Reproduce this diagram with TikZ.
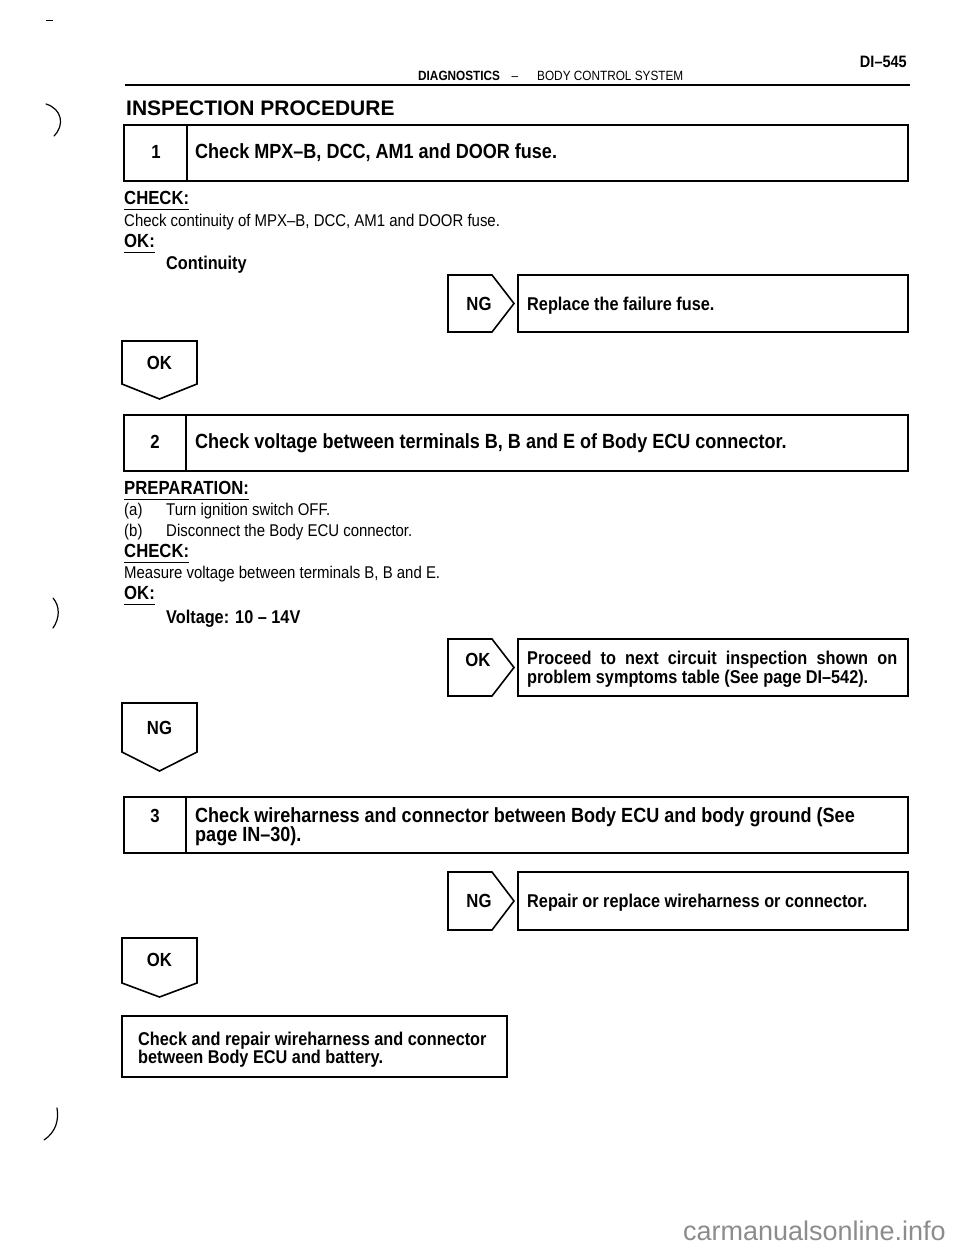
\documentclass[tikz,border=0pt]{standalone}
\usepackage{fontspec}
\setmainfont{Liberation Sans}[FakeStretch=0.88]
\newfontfamily\widefont{Liberation Sans}
\usetikzlibrary{calc}
\begin{document}
\begin{tikzpicture}[x=1pt,y=-1pt,
  bx/.style={line width=1.6pt, line join=miter},
  txt/.style={inner sep=0pt, anchor=base west, font=\fontsize{17}{20}\selectfont},
  bt/.style={inner sep=0pt, anchor=base west, font=\fontsize{18.5}{20}\selectfont\bfseries},
  lbl/.style={inner sep=0pt, anchor=base west, font=\fontsize{19}{20}\selectfont\bfseries},
  rt/.style={inner sep=0pt, anchor=base west, font=\fontsize{18.5}{20}\selectfont\bfseries},
  hd/.style={inner sep=0pt, anchor=base west, font=\fontsize{20.5}{22}\selectfont\bfseries},
  num/.style={inner sep=0pt, anchor=base, font=\fontsize{19}{22}\selectfont\bfseries},
  lab/.style={inner sep=0pt, font=\fontsize{19}{20}\selectfont\bfseries},
  ul/.style={line width=1pt},
  margmark/.style={line width=1.2pt, line cap=round}]
\useasboundingbox (0,0) rectangle (960,1250);

% margin marks
\draw[line width=0.8pt] (46,20) -- (53,20);
\draw[margmark] (46,104) .. controls (62,109) and (65,125) .. (54,136);
\draw[margmark] (53,598) .. controls (60,606) and (60,618) .. (53,628);
\draw[margmark] (57,1108) .. controls (59,1120) and (56,1132) .. (44,1140);

% header
\node[inner sep=0pt, anchor=base east, font=\fontsize{16.5}{18}\selectfont\bfseries] (page) at (907,67) {DI--545};
\node[inner sep=0pt, anchor=base west, font=\fontsize{13.4}{15}\selectfont\bfseries] (diag) at (418,80) {DIAGNOSTICS};
\node[inner sep=0pt, anchor=base, font=\fontsize{13.4}{15}\selectfont] (dash) at (515,80) {--};
\node[inner sep=0pt, anchor=base west, font=\fontsize{13.4}{15}\selectfont] (bcs) at (537,80) {BODY CONTROL SYSTEM};
\draw[line width=1.5pt] (125,85) -- (910,85);
\node[inner sep=0pt, anchor=base west, font=\widefont\fontsize{21}{24}\selectfont\bfseries] (title) at (126,115) {INSPECTION PROCEDURE};

% ---- step 1
\draw[bx] (124,125) rectangle (908,181);
\draw[bx] (187,125) -- (187,181);
\node[num] (n1) at (156,158) {1};
\node[hd] (h1) at (195,158) {Check MPX--B, DCC, AM1 and DOOR fuse.};
\node[lbl] (c1) at (124,204) {CHECK:};
\draw[ul] ($(c1.base west)+(0,5)$) -- ($(c1.base east)+(0,5)$);
\node[txt] (c1t) at (124,226) {Check continuity of MPX--B, DCC, AM1 and DOOR fuse.};
\node[lbl] (ok1) at (124,247) {OK:};
\draw[ul] ($(ok1.base west)+(0,5)$) -- ($(ok1.base east)+(0,5)$);
\node[bt] (ok1t) at (166,269) {Continuity};

\draw[bx] (448,275) -- (492,275) -- (514,303.5) -- (492,332) -- (448,332) -- cycle;
\node[lab] (ng1) at (479,303.5) {NG};
\draw[bx] (518,275) rectangle (908,332);
\node[rt] (r1) at (527,310) {Replace the failure fuse.};

\draw[bx] (122,341) -- (197,341) -- (197,384) -- (159.5,399) -- (122,384) -- cycle;
\node[lab] (okd1) at (159.5,363) {OK};

% ---- step 2
\draw[bx] (124,415) rectangle (908,471);
\draw[bx] (186,415) -- (186,471);
\node[num] (n2) at (155,448) {2};
\node[hd] (h2) at (195,448) {Check voltage between terminals B, B and E of Body ECU connector.};
\node[lbl] (p2) at (124,494) {PREPARATION:};
\draw[ul] ($(p2.base west)+(0,5)$) -- ($(p2.base east)+(0,5)$);
\node[txt] (a2) at (124,515) {(a)};
\node[txt] (a2t) at (166,515) {Turn ignition switch OFF.};
\node[txt] (b2) at (124,536) {(b)};
\node[txt] (b2t) at (166,536) {Disconnect the Body ECU connector.};
\node[lbl] (c2) at (124,557) {CHECK:};
\draw[ul] ($(c2.base west)+(0,5)$) -- ($(c2.base east)+(0,5)$);
\node[txt] (c2t) at (124,578) {Measure voltage between terminals B, B and E.};
\node[lbl] (ok2) at (124,599) {OK:};
\draw[ul] ($(ok2.base west)+(0,5)$) -- ($(ok2.base east)+(0,5)$);
\node[bt] (ok2t) at (166,623) {Voltage: 10 -- 14V};

\draw[bx] (448,639) -- (492,639) -- (514,667.5) -- (492,696) -- (448,696) -- cycle;
\node[lab] (okr2) at (478,660) {OK};
\draw[bx] (518,639) rectangle (908,696);
\node[rt] (r2a) at (527,664) {\makebox[370pt][s]{Proceed to next circuit inspection shown on}};
\node[rt] (r2b) at (527,683) {problem symptoms table (See page DI--542).};

\draw[bx] (122,703) -- (197,703) -- (197,752) -- (159.5,771) -- (122,752) -- cycle;
\node[lab] (ngd2) at (159.5,728) {NG};

% ---- step 3
\draw[bx] (124,797) rectangle (908,853);
\draw[bx] (186,797) -- (186,853);
\node[num] (n3) at (155,822) {3};
\node[hd] (h3a) at (195,822) {Check wireharness and connector between Body ECU and body ground (See};
\node[hd] (h3b) at (195,841) {page IN--30).};

\draw[bx] (448,872) -- (492,872) -- (514,901) -- (492,930) -- (448,930) -- cycle;
\node[lab] (ng3) at (479,901) {NG};
\draw[bx] (518,872) rectangle (908,930);
\node[rt] (r3) at (527,907) {Repair or replace wireharness or connector.};

\draw[bx] (122,938) -- (197,938) -- (197,983) -- (159.5,997) -- (122,983) -- cycle;
\node[lab] (okd3) at (159.5,960) {OK};

% ---- final
\draw[bx] (122,1016) rectangle (507,1077);
\node[rt] (f1) at (138,1045) {Check and repair wireharness and connector};
\node[rt] (f2) at (138,1063) {between Body ECU and battery.};

% watermark
\node[inner sep=0pt, anchor=base east, text=black!45, font=\widefont\fontsize{27}{30}\selectfont] (wm) at (946,1240) {carmanualsonline.info};
\end{tikzpicture}
\end{document}
